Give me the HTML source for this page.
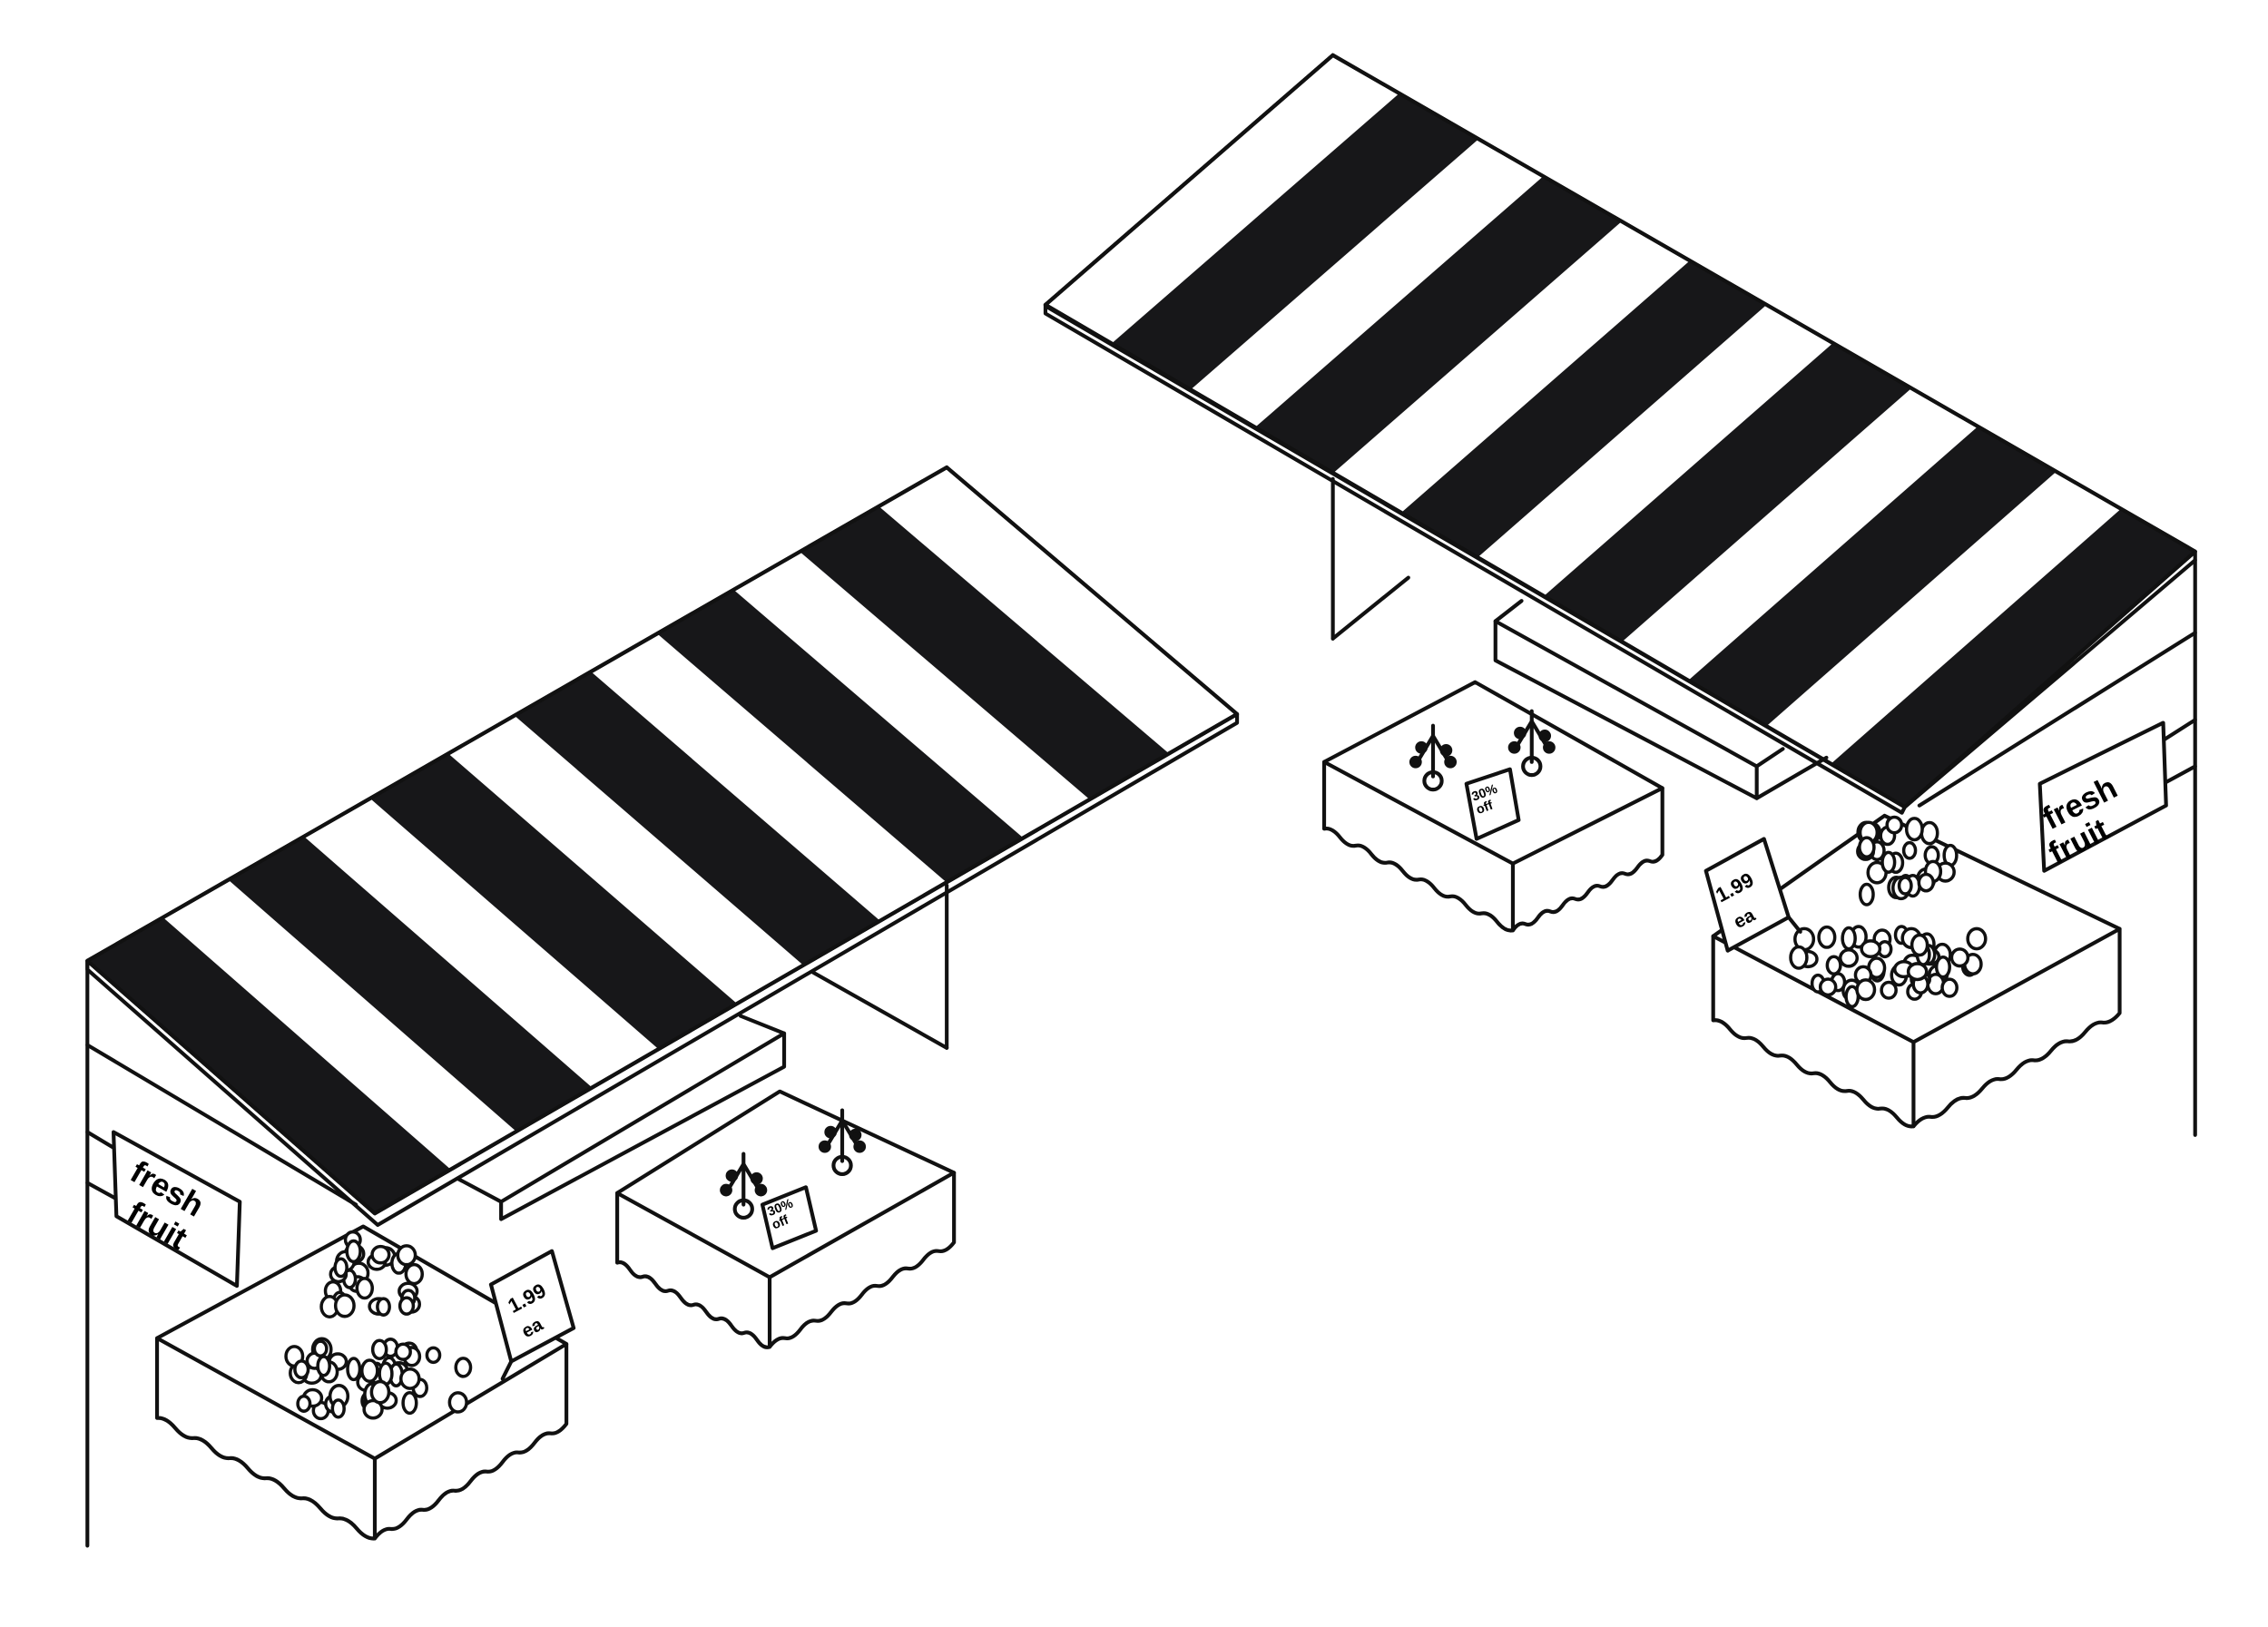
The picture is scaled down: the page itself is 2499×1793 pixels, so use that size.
<!DOCTYPE html>
<html><head><meta charset="utf-8"><style>
html,body{margin:0;padding:0;background:#fff}
svg{display:block}
text{font-family:"Liberation Sans",sans-serif;font-weight:bold;fill:#000;stroke:none}
</style></head><body>
<svg id="s" width="2499" height="1793" viewBox="0 0 1562 1121" xmlns="http://www.w3.org/2000/svg" fill="none" stroke="#111" stroke-width="2.6" stroke-linejoin="round" stroke-linecap="round">
<g id="g"></g>
<line x1="60" y1="662" x2="60" y2="1065"/>
<line x1="60" y1="720" x2="245" y2="830"/>
<line x1="60" y1="780" x2="80" y2="792"/>
<line x1="60" y1="815" x2="80" y2="826"/>
<line x1="652" y1="610" x2="652" y2="722"/>
<line x1="560" y1="670" x2="652" y2="722"/>
<polyline points="315,812 345,828 540,712 540,735 345,840 345,828"/>
<line x1="510" y1="700" x2="540" y2="712"/>
<line x1="1512" y1="380" x2="1512" y2="782"/>
<line x1="1512" y1="436" x2="1322" y2="555"/>
<line x1="1490" y1="510" x2="1512" y2="496"/>
<line x1="1490" y1="540" x2="1512" y2="528"/>
<line x1="918" y1="330" x2="918" y2="440"/>
<line x1="918" y1="440" x2="970" y2="398"/>
<polyline points="1030,428 1048,414"/>
<polyline points="1030,428 1210,528 1210,550 1030,455 1030,428"/>
<line x1="1210" y1="528" x2="1228" y2="516"/>
<line x1="1210" y1="550" x2="1258" y2="522"/>
<polygon points="78,780 165,828 163,886 80,838" fill="#fff"/>
<text transform="translate(88,812) rotate(30)" font-size="22">fresh</text>
<text transform="translate(86,840) rotate(30)" font-size="22">fruit</text>
<polygon points="1405,540 1490,498 1492,555 1408,600" fill="#fff"/>
<text transform="translate(1412,572) rotate(-27)" font-size="22">fresh</text>
<text transform="translate(1416,596) rotate(-27)" font-size="22">fruit</text>
<polygon points="338,885 380,862 395,915 352,938" fill="#fff"/>
<text transform="translate(353,905) rotate(-28)" font-size="14">1.99</text>
<text transform="translate(362,922) rotate(-28)" font-size="13">ea</text>
<line x1="352" y1="938" x2="346" y2="950"/>
<polygon points="1175,600 1215,578 1232,632 1190,655" fill="#fff"/>
<text transform="translate(1185,622) rotate(-28)" font-size="14">1.99</text>
<text transform="translate(1197,640) rotate(-28)" font-size="13">ea</text>
<line x1="1232" y1="632" x2="1240" y2="642"/>
</svg>
<script>
const NS="http://www.w3.org/2000/svg",g=document.getElementById('g');
function el(t,a,p){const e=document.createElementNS(NS,t);for(const k in a)e.setAttribute(k,a[k]);(p||g).appendChild(e);return e;}
function L(a,b,t){return [a[0]+(b[0]-a[0])*t,a[1]+(b[1]-a[1])*t];}
function awning(A,B,D,C,bands,th){
  el('polygon',{points:[A,[A[0],A[1]+th],[D[0]+2,D[1]+th+2],[C[0],C[1]+th],C,D].map(p=>p.join(',')).join(' '),fill:'#fff'});
  el('polygon',{points:[A,B,C,D].map(p=>p.join(',')).join(' '),fill:'#fff'});
  bands.forEach(b=>{const p=[L(A,B,b[0]),L(A,B,b[1]),L(D,C,b[1]),L(D,C,b[0])];
    el('polygon',{points:p.map(q=>q.join(',')).join(' '),fill:'#171719',stroke:'none'});});
  el('polygon',{points:[A,B,C,D].map(p=>p.join(',')).join(' ')});
}
awning([60,662],[652,322],[258,836],[852,492],[[0,.088],[.164,.252],[.329,.420],[.497,.586],[.663,.752],[.829,.921]],6);
awning([918,38],[1512,380],[720,210],[1312,556],[[.077,.169],[.244,.335],[.414,.503],[.580,.671],[.748,.839],[.914,1]],0);
el('polyline',{points:'720,210 720,216 1310,560 1312,556'});
el('line',{x1:1312,y1:556,x2:1512,y2:386});
function wavy(a,b){let d='';const n=12;for(let i=1;i<=n;i++){const p=L(a,b,i/n),m=L(a,b,(i-.5)/n);const o=(i%2?4:-4);d+=' Q'+m[0]+','+(m[1]+o)+' '+p[0]+','+p[1];}return d;}
function table(l,bk,r,f,h){
  const lb=[l[0],l[1]+h],fb=[f[0],f[1]+h],rb=[r[0],r[1]+h];
  el('path',{d:'M'+l+' L'+bk+' L'+r+' L'+rb+wavy(rb,fb)+wavy(fb,lb)+' Z',fill:'#fff'});
  el('polyline',{points:[l,f,r].map(p=>p.join(',')).join(' ')});
  el('line',{x1:f[0],y1:f[1],x2:fb[0],y2:fb[1]});
}
table([108,922],[250,845],[390,926],[258,1005],55);
table([425,822],[537,752],[657,808],[530,880],48);
table([912,525],[1016,470],[1145,543],[1042,595],46);
table([1180,645],[1298,562],[1460,640],[1318,718],58);
function fruits(cx,cy,w,h,n,seed){let r=seed;function rnd(){r=(r*9301+49297)%233280;return r/233280;}
  for(let i=0;i<n;i++){el('ellipse',{cx:cx+(rnd()-.5)*w,cy:cy+(rnd()-.5)*h,rx:4+rnd()*2.5,ry:5+rnd()*2.5,fill:'#fff','stroke-width':2.2});}}
fruits(255,878,65,50,26,3);fruits(262,950,125,45,44,7);
fruits(1312,592,65,50,26,5);fruits(1300,665,125,45,44,11);
function plant(x,y){el('line',{x1:x,y1:y-35,x2:x,y2:y});el('circle',{cx:x,cy:y+3,r:6});
  el('polyline',{points:`${x-12},${y-8} ${x},${y-28} ${x+12},${y-8}`});
  [[-12,-10],[12,-10],[-8,-20],[9,-18]].forEach(o=>el('circle',{cx:x+o[0],cy:y+o[1],r:3,fill:'#111'}));}
plant(512,830);plant(580,800);plant(987,535);plant(1055,525);
function off(pts,tx,ty,rot){el('polygon',{points:pts,fill:'#fff'});
  const t=el('text',{transform:`translate(${tx},${ty}) rotate(${rot})`,'font-size':9});t.textContent='30%';
  const t2=el('text',{transform:`translate(${tx+3},${ty+9}) rotate(${rot})`,'font-size':9});t2.textContent='off';}
off('525,830 555,818 562,848 532,860',530,838,-22);
off('1010,540 1040,530 1046,565 1017,578',1015,552,-20);
</script>
</body></html>
